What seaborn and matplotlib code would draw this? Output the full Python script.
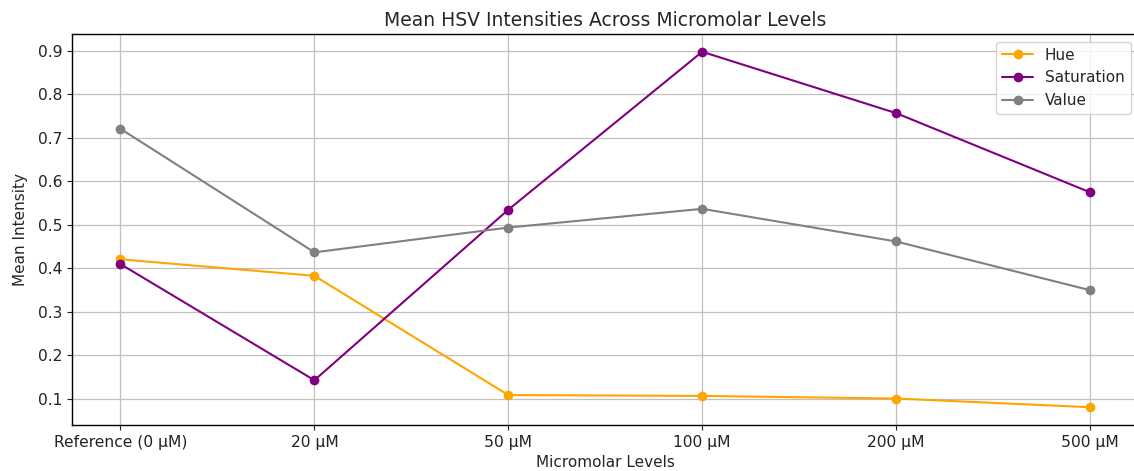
import matplotlib
matplotlib.use("Agg")
import matplotlib.pyplot as plt
import seaborn as sns
import pandas as pd

levels = ["Reference (0 μM)", "20 μM", "50 μM", "100 μM", "200 μM", "500 μM"]
hue_vals = [0.421, 0.383, 0.109, 0.107, 0.101, 0.081]
saturation_vals = [0.410, 0.143, 0.535, 0.898, 0.757, 0.575]
value_vals = [0.721, 0.437, 0.494, 0.537, 0.462, 0.350]

channels = ["Hue", "Saturation", "Value"]
colors = {"Hue": "orange", "Saturation": "purple", "Value": "gray"}

df = pd.DataFrame({
    "Micromolar Levels": levels * 3,
    "Mean Intensity": hue_vals + saturation_vals + value_vals,
    "Channel": ["Hue"] * 6 + ["Saturation"] * 6 + ["Value"] * 6,
})

sns.set_style("ticks")
plt.rcParams["font.family"] = ["DejaVu Sans"]

fig = plt.figure(figsize=(11.34, 4.71), dpi=100)
ax = fig.add_axes([72 / 1134, 1 - 425 / 471, (1138.5 - 72) / 1134, (425 - 34) / 471])

sns.lineplot(
    data=df, x="Micromolar Levels", y="Mean Intensity", hue="Channel",
    hue_order=channels, palette=colors, marker="o", markersize=7,
    markeredgewidth=0, linewidth=1.5, sort=False, ax=ax,
)

ax.grid(True, color="#c0c0c0", linewidth=0.9)
ax.set_axisbelow(True)
ax.set_title("Mean HSV Intensities Across Micromolar Levels", fontsize=13.5)
ax.set_xlabel("Micromolar Levels", fontsize=11)
ax.set_ylabel("Mean Intensity", fontsize=11, labelpad=7)
ax.tick_params(labelsize=11.2, colors="#222222")
ax.set_yticks([0.1, 0.2, 0.3, 0.4, 0.5, 0.6, 0.7, 0.8, 0.9])
for s in ax.spines.values():
    s.set_color("black")
    s.set_linewidth(1.0)

leg = ax.legend(loc="upper right", fontsize=11, frameon=True)
leg.get_frame().set_edgecolor("#cccccc")

fig.savefig("out.png", dpi=100)
